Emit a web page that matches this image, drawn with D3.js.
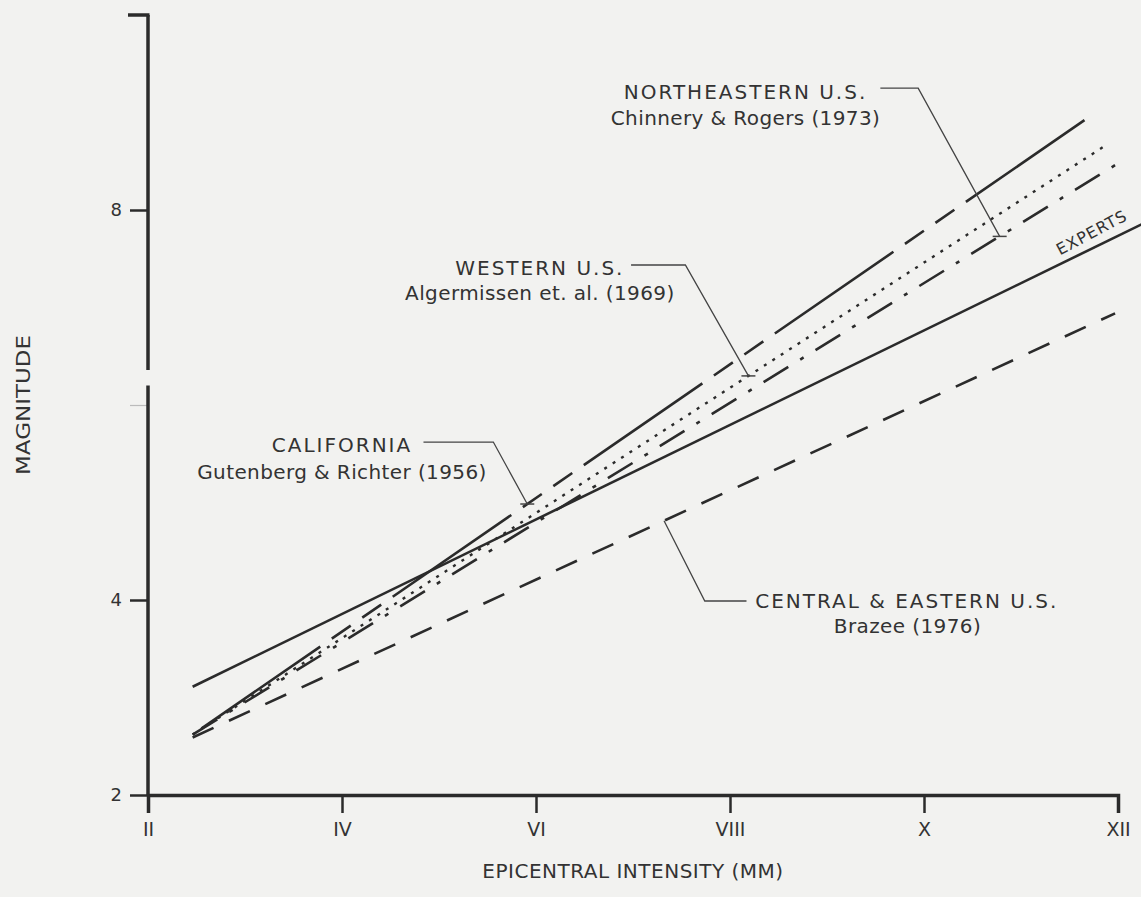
<!DOCTYPE html>
<html>
<head>
<meta charset="utf-8">
<script src="https://cdn.jsdelivr.net/npm/d3@7"></script>
<style>
  html, body { margin: 0; padding: 0; background: #f2f2f0; }
  svg { display: block; }
  text { font-family: "DejaVu Sans", sans-serif; fill: #333; }
</style>
</head>
<body>
<svg id="chart" width="1141" height="897"></svg>
<script>
// ---- data (intensity in MM units, magnitude) ----
const xTickValues = [2, 4, 6, 8, 10, 12];
const xTickLabels = ["II", "IV", "VI", "VIII", "X", "XII"];
const yTickValues = [2, 4, 6, 8];
const yTickLabels = ["2", "4", "", "8"];

const expertsLine     = [[2.46, 3.11], [12.3, 7.88]];
const gutenbergLine   = [[2.46, 2.62], [11.74, 8.98]];
const algermissenLine = [[2.46, 2.62], [11.90, 8.68]];
const chinneryLine    = [[2.46, 2.62], [11.97, 8.46]];
const brazeeLine      = [[2.46, 2.59], [11.97, 6.94]];

const seriesNames = ["EXPERTS", "CALIFORNIA", "WESTERN U.S.", "NORTHEASTERN U.S.", "CENTRAL & EASTERN U.S."];
const seriesSources = ["", "Gutenberg & Richter (1956)", "Algermissen et. al. (1969)", "Chinnery & Rogers (1973)", "Brazee (1976)"];

// ---- layout ----
const svg = d3.select("#chart");
const x = d3.scaleLinear().domain([2, 12]).range([148, 1118]);
const y = d3.scaleLinear().domain([2, 10]).range([795, 15]);
const ink = "#2b2b2b";

// axes
const xAxis = d3.axisBottom(x).tickValues(xTickValues).tickFormat((d, i) => xTickLabels[i]).tickSize(18).tickPadding(10);
const gx = svg.append("g").attr("transform", `translate(0,${y(2)})`).call(xAxis);
gx.select(".domain").attr("stroke", ink).attr("stroke-width", 3.5);
gx.selectAll(".tick line").attr("stroke", ink).attr("stroke-width", 2.5);
gx.selectAll(".tick text").attr("font-family", "DejaVu Sans Condensed").attr("font-size", 19).attr("fill", "#555");

const yAxis = d3.axisLeft(y).tickValues(yTickValues).tickFormat((d, i) => yTickLabels[i]).tickSize(18).tickPadding(8);
const gy = svg.append("g").attr("transform", `translate(${x(2)},0)`).call(yAxis);
gy.select(".domain").remove();
gy.selectAll(".tick line").attr("stroke", ink).attr("stroke-width", 2.5);
gy.selectAll(".tick").filter(d => d === 6).select("line").attr("stroke", "#bbb").attr("stroke-width", 1.2);
gy.selectAll(".tick text").attr("font-size", 18).attr("fill", "#444");
// y axis line with a small break near 6.3
[[2, 6.2], [6.36, 10]].forEach(([a, b]) => {
  svg.append("line").attr("x1", x(2)).attr("x2", x(2)).attr("y1", y(a)).attr("y2", y(b))
    .attr("stroke", ink).attr("stroke-width", 3.5);
});
// top cap
svg.append("line").attr("x1", x(2) - 20).attr("x2", x(2) + 1.5).attr("y1", y(10)).attr("y2", y(10))
  .attr("stroke", ink).attr("stroke-width", 3.5);

// axis titles
svg.append("text").attr("x", (x(2) + x(12)) / 2).attr("y", 878).attr("text-anchor", "middle")
  .attr("font-family", "DejaVu Sans Condensed").attr("font-size", 20).attr("letter-spacing", 0.5)
  .attr("fill", "#444").text("EPICENTRAL INTENSITY (MM)");
svg.append("text").attr("transform", `translate(30,${y(6)}) rotate(-90)`).attr("text-anchor", "middle")
  .attr("font-family", "DejaVu Sans Condensed").attr("font-size", 20)
  .attr("textLength", 140).attr("lengthAdjust", "spacingAndGlyphs")
  .attr("fill", "#444").text("MAGNITUDE");

// ---- lines ----
const line = d3.line().x(d => x(d[0])).y(d => y(d[1]));
const styles = [
  { data: expertsLine, dash: null, w: 2.6 },
  { data: gutenbergLine, dash: "144,14,23,14,23,14", off: 221, w: 2.6 },
  { data: algermissenLine, dash: "3,7", w: 2.4 },
  { data: chinneryLine, dash: "29,14,4,14", w: 2.6 },
  { data: brazeeLine, dash: "23,17", w: 2.6 }
];
styles.forEach(s => {
  const p = svg.append("path").datum(s.data).attr("d", line)
    .attr("fill", "none").attr("stroke", ink).attr("stroke-width", s.w);
  if (s.dash) p.attr("stroke-dasharray", s.dash);
  if (s.off) p.attr("stroke-dashoffset", s.off);
});

// value of a straight series at intensity i
function at(data, i) {
  const [a, b] = data;
  return a[1] + (b[1] - a[1]) * (i - a[0]) / (b[0] - a[0]);
}

function upper(sel) { return sel.attr("font-size", 20).attr("letter-spacing", 2); }
function mixed(sel) { return sel.attr("font-size", 20).attr("letter-spacing", 0.4); }

// ---- annotations (data coordinates) ----
const annotations = [
  { name: seriesNames[3], src: seriesSources[3], tx: 8.16, ty: 9.21, ty2: 8.94,
    leader: [[9.55, 9.25], [9.94, 9.25]], target: chinneryLine, ti: 10.78 },
  { name: seriesNames[2], src: seriesSources[2], tx: 6.04, ty: 7.405, ty2: 7.15,
    leader: [[6.98, 7.436], [7.54, 7.436]], target: algermissenLine, ti: 8.19 },
  { name: seriesNames[1], src: seriesSources[1], tx: 4.0, ty: 5.59, ty2: 5.31,
    leader: [[4.84, 5.62], [5.56, 5.62]], target: gutenbergLine, ti: 5.91 },
];
annotations.forEach(a => {
  upper(svg.append("text").attr("x", x(a.tx)).attr("y", y(a.ty)).attr("dy", "0.35em").attr("text-anchor", "middle"))
    .text(a.name);
  mixed(svg.append("text").attr("x", x(a.tx)).attr("y", y(a.ty2)).attr("dy", "0.35em").attr("text-anchor", "middle"))
    .text(a.src);
  const pts = a.leader.concat([[a.ti, at(a.target, a.ti)]]);
  svg.append("path").datum(pts).attr("d", line).attr("fill", "none").attr("stroke", "#444").attr("stroke-width", 1.3);
  const ex = x(a.ti), ey = y(at(a.target, a.ti));
  svg.append("line").attr("x1", ex - 7).attr("x2", ex + 7).attr("y1", ey).attr("y2", ey)
    .attr("stroke", "#444").attr("stroke-width", 1.5);
});

// central & eastern
const bi = 7.32;
svg.append("path").datum([[bi, at(brazeeLine, bi)], [7.74, 3.99], [8.17, 3.99]]).attr("d", line)
  .attr("fill", "none").attr("stroke", "#444").attr("stroke-width", 1.3);
upper(svg.append("text").attr("x", x(8.26)).attr("y", y(3.99)).attr("dy", "0.35em")).text(seriesNames[4]);
mixed(svg.append("text").attr("x", x(9.83)).attr("y", y(3.73)).attr("dy", "0.35em").attr("text-anchor", "middle")).text(seriesSources[4]);

// EXPERTS label along its line
const ei = 11.8;
const ang = Math.atan2(y(expertsLine[1][1]) - y(expertsLine[0][1]), x(expertsLine[1][0]) - x(expertsLine[0][0])) * 180 / Math.PI;
svg.append("text").attr("transform", `translate(${x(ei)},${y(at(expertsLine, ei))}) rotate(${ang - 2}) translate(0,-9)`)
  .attr("text-anchor", "middle").attr("font-size", 16).attr("letter-spacing", 1).attr("fill", "#555").text(seriesNames[0]);
</script>
</body>
</html>
